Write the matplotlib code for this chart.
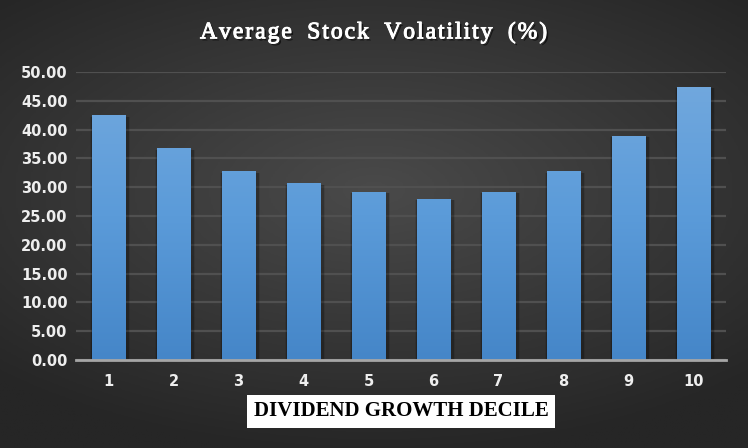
import numpy as np
import matplotlib
matplotlib.use("Agg")
import matplotlib.pyplot as plt
from matplotlib.colors import LinearSegmentedColormap
import matplotlib.transforms as mtransforms
import matplotlib.patheffects as pe

deciles = ['1', '2', '3', '4', '5', '6', '7', '8', '9', '10']
volatility = [42.5, 36.8, 32.8, 30.7, 29.2, 28.0, 29.2, 32.8, 38.9, 47.4]
yticks = [0, 5, 10, 15, 20, 25, 30, 35, 40, 45, 50]
title = 'Average Stock Volatility (%)'

fig = plt.figure(figsize=(7.48, 4.48), dpi=100)

# radial gray background
bg = fig.add_axes([0, 0, 1, 1], zorder=-10)
gx, gy = np.meshgrid(np.linspace(-1, 1, 400), np.linspace(-1, 1, 300))
r = np.sqrt((gx * 0.9) ** 2 + ((gy + 0.15) * 1.1) ** 2)
bg_cmap = LinearSegmentedColormap.from_list('bg', ['#4a4a4a', '#383838', '#262626'])
bg.imshow(r, cmap=bg_cmap, extent=[0, 1, 0, 1], aspect='auto', vmin=0, vmax=1.3)
bg.axis('off')

ax = fig.add_axes([0.1016, 0.1964, 0.869, 0.6429])
ax.patch.set_alpha(0)
x = np.arange(len(deciles))
width = 0.52

# soft shadow
for k, a in [(4, 0.08), (3, 0.1), (2, 0.12)]:
    shift = mtransforms.offset_copy(ax.transData, fig=fig, x=1.5, y=-1.5, units='dots')
    ax.bar(x, volatility, width=width + 0.025 * k, color='black', alpha=a,
           transform=shift, zorder=2)

bars = ax.bar(x, volatility, width=width, color='#5b9bd5', zorder=3)
bar_cmap = LinearSegmentedColormap.from_list('bar', ['#4586c8', '#5b9bd9', '#73a9de'])
grad = np.linspace(0, 1, 256).reshape(-1, 1)
for b, v in zip(bars, volatility):
    im = ax.imshow(grad, cmap=bar_cmap, origin='lower', aspect='auto',
                   extent=[b.get_x(), b.get_x() + b.get_width(), 0, 50], zorder=4)
    im.set_clip_path(b)

ax.set_xlim(-0.5, len(deciles) - 0.5)
ax.set_ylim(0, 50)
ax.set_yticks(yticks)
ax.set_yticklabels(['%.2f' % t for t in yticks])
ax.set_xticks(x)
ax.set_xticklabels(deciles)
ax.yaxis.grid(True, color='#505050', linewidth=1.6, zorder=0)
ax.set_axisbelow(True)
for s in ['top', 'right', 'left']:
    ax.spines[s].set_visible(False)
ax.spines['bottom'].set_color('#a6a6a6')
ax.spines['bottom'].set_linewidth(2)
ax.spines['bottom'].set_zorder(5)
ax.tick_params(length=0, colors='#eeeeee', labelsize=10.5, pad=6)
ax.tick_params(axis='x', pad=10)
for lab in ax.get_xticklabels() + ax.get_yticklabels():
    lab.set_fontweight('bold')
    lab.set_family('DejaVu Sans')

# letter-spaced title
spaced = '\u200a'.join(title).replace('\u200a \u200a', '\u2009 \u2009')
fig.text(0.5, 0.927, spaced, ha='center', va='center',
         color='white', fontsize=17, family=['Liberation Serif', 'DejaVu Serif'],
         path_effects=[pe.withSimplePatchShadow(offset=(1.5, -1.5), shadow_rgbFace='black', alpha=0.6),
                       pe.withStroke(linewidth=0.7, foreground='white')])

ax.set_xlabel('DIVIDEND GROWTH DECILE', fontsize=15, family='Liberation Serif',
              fontweight='bold', color='black', labelpad=9,
              bbox=dict(facecolor='white', edgecolor='none', pad=5))

fig.savefig('out.png', dpi=100)
